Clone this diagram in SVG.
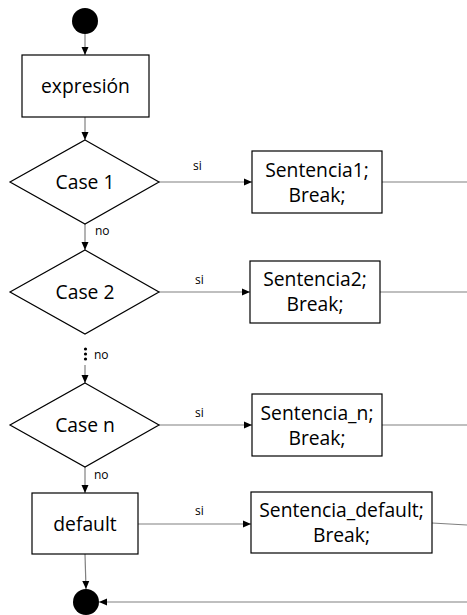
<svg xmlns="http://www.w3.org/2000/svg" width="467" height="615" viewBox="0 0 467 615">
<style>
.shape{fill:#fff;stroke:#000;stroke-width:1.2}
.conn{fill:none;stroke:#808080;stroke-width:1.2}
.t{font-family:"Open Sans","Liberation Sans",sans-serif;font-size:19.3px;fill:#000;text-anchor:middle}
.s{font-family:"Open Sans","Liberation Sans",sans-serif;font-size:12px;fill:#000}
</style>
<defs>
<marker id="ah" viewBox="0 0 8 8" refX="8" refY="4" markerWidth="8" markerHeight="8" markerUnits="userSpaceOnUse" orient="auto">
<path d="M0,0.5 L8,4 L0,7.5 Z" fill="#000"/>
</marker>
</defs>
<g id="connectors">
<line class="conn" x1="85" y1="34" x2="85" y2="55" marker-end="url(#ah)"/>
<line class="conn" x1="85" y1="117" x2="85" y2="140" marker-end="url(#ah)"/>
<line class="conn" x1="159" y1="182" x2="252" y2="182" marker-end="url(#ah)"/>
<line class="conn" x1="382" y1="182" x2="467" y2="182"/>
<line class="conn" x1="85" y1="224" x2="85" y2="250" marker-end="url(#ah)"/>
<line class="conn" x1="159" y1="292" x2="250" y2="292" marker-end="url(#ah)"/>
<line class="conn" x1="380" y1="292" x2="467" y2="292"/>
<line class="conn" x1="85" y1="365" x2="85" y2="383" marker-end="url(#ah)"/>
<line class="conn" x1="159" y1="425" x2="252" y2="425" marker-end="url(#ah)"/>
<line class="conn" x1="382" y1="425" x2="467" y2="425"/>
<line class="conn" x1="85" y1="467" x2="85" y2="493" marker-end="url(#ah)"/>
<line class="conn" x1="138" y1="524" x2="251" y2="524" marker-end="url(#ah)"/>
<line class="conn" x1="432" y1="523" x2="467" y2="525"/>
<line class="conn" x1="85" y1="554" x2="86" y2="589" marker-end="url(#ah)"/>
<line class="conn" x1="467" y1="602" x2="99" y2="602" marker-end="url(#ah)"/>
<circle cx="85.5" cy="349" r="1.6" fill="#000"/>
<circle cx="85.5" cy="354" r="1.6" fill="#000"/>
<circle cx="85.5" cy="359" r="1.6" fill="#000"/>
<text class="s" x="193" y="170">si</text>
<text class="s" x="95" y="235">no</text>
<text class="s" x="195" y="284">si</text>
<text class="s" x="94" y="359">no</text>
<text class="s" x="195" y="417">si</text>
<text class="s" x="94" y="479">no</text>
<text class="s" x="195" y="515">si</text>
</g>
<g id="start"><circle cx="85" cy="21" r="13" fill="#000"/></g>
<g id="expresion"><rect class="shape" x="22" y="55" width="127" height="62"/><text class="t" x="85.5" y="93">expresión</text></g>
<g id="case1"><polygon class="shape" points="85,140 159,182 85,224 10,182"/><text class="t" x="85" y="189">Case 1</text></g>
<g id="sent1"><rect class="shape" x="252" y="151" width="130" height="62"/><text class="t" x="317" y="177">Sentencia1;</text><text class="t" x="317" y="202">Break;</text></g>
<g id="case2"><polygon class="shape" points="85,250 159,292 85,334 10,292"/><text class="t" x="85" y="299">Case 2</text></g>
<g id="sent2"><rect class="shape" x="250" y="261" width="130" height="62"/><text class="t" x="315" y="286">Sentencia2;</text><text class="t" x="315" y="311">Break;</text></g>
<g id="casen"><polygon class="shape" points="85,383 159,425 85,467 10,425"/><text class="t" x="85" y="432">Case n</text></g>
<g id="sentn"><rect class="shape" x="252" y="394" width="130" height="62"/><text class="t" x="317" y="420">Sentencia_n;</text><text class="t" x="317" y="445">Break;</text></g>
<g id="default"><rect class="shape" x="32" y="493" width="106" height="61"/><text class="t" x="85" y="531">default</text></g>
<g id="sentdefault"><rect class="shape" x="251" y="492" width="181" height="61"/><text class="t" x="341.5" y="517">Sentencia_default;</text><text class="t" x="341.5" y="542">Break;</text></g>
<g id="end"><circle cx="86" cy="602" r="13" fill="#000"/></g>
</svg>
